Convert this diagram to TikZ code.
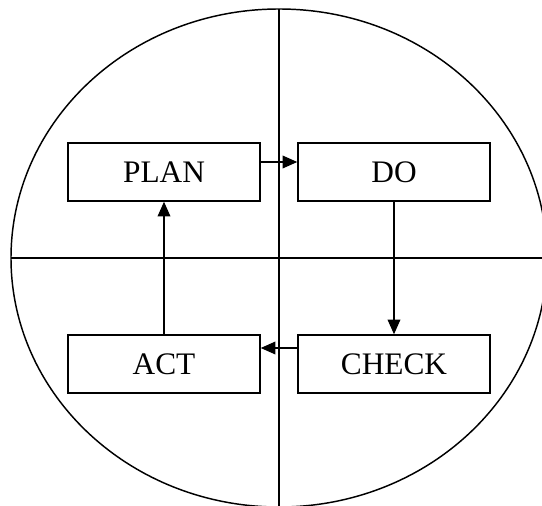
\documentclass[tikz,border=0pt]{standalone}
\usepackage{fontspec}
\setmainfont{Liberation Serif}
\usetikzlibrary{arrows.meta}

\tikzset{
  stagebox/.style={draw, line width=1.1pt, fill=white, inner sep=0pt,
    minimum width=144pt, minimum height=43.5pt,
    font=\fontsize{23.5}{28}\selectfont},
  flow/.style={line width=1.1pt, -{Triangle[length=11pt,width=9.5pt]}},
}

\begin{document}
\begin{tikzpicture}[x=0.75pt,y=0.75pt,yscale=-1,xscale=1]
\useasboundingbox (0,0) rectangle (542,506);
\clip (0,0) rectangle (542,506);

%Ellipse and the two cross lines
\draw [line width=1.1pt] (279,258) ellipse [x radius=268, y radius=249];
\coordinate (top) at (279,9);
\coordinate (bottom) at (279,507);
\coordinate (left) at (11,258);
\coordinate (right) at (547,258);
\draw [line width=1.1pt] (top) -- (bottom);
\draw [line width=1.1pt] (left) -- (right);

% Boxes
\node [stagebox] (plan) at (164,172) {PLAN};
\node [stagebox] (do) at (394,172) {DO};
\node [stagebox] (act) at (164,364) {ACT};
\node [stagebox] (check) at (394,364) {CHECK};

% Arrows
\draw [flow] ([yshift=-7.5pt]plan.east) -- ([yshift=-7.5pt]do.west);
\draw [flow] (do.south) -- (check.north);
\draw [flow] ([yshift=-12pt]check.west) -- ([yshift=-12pt]act.east);
\draw [flow] (act.north) -- (plan.south);

\end{tikzpicture}
\end{document}
